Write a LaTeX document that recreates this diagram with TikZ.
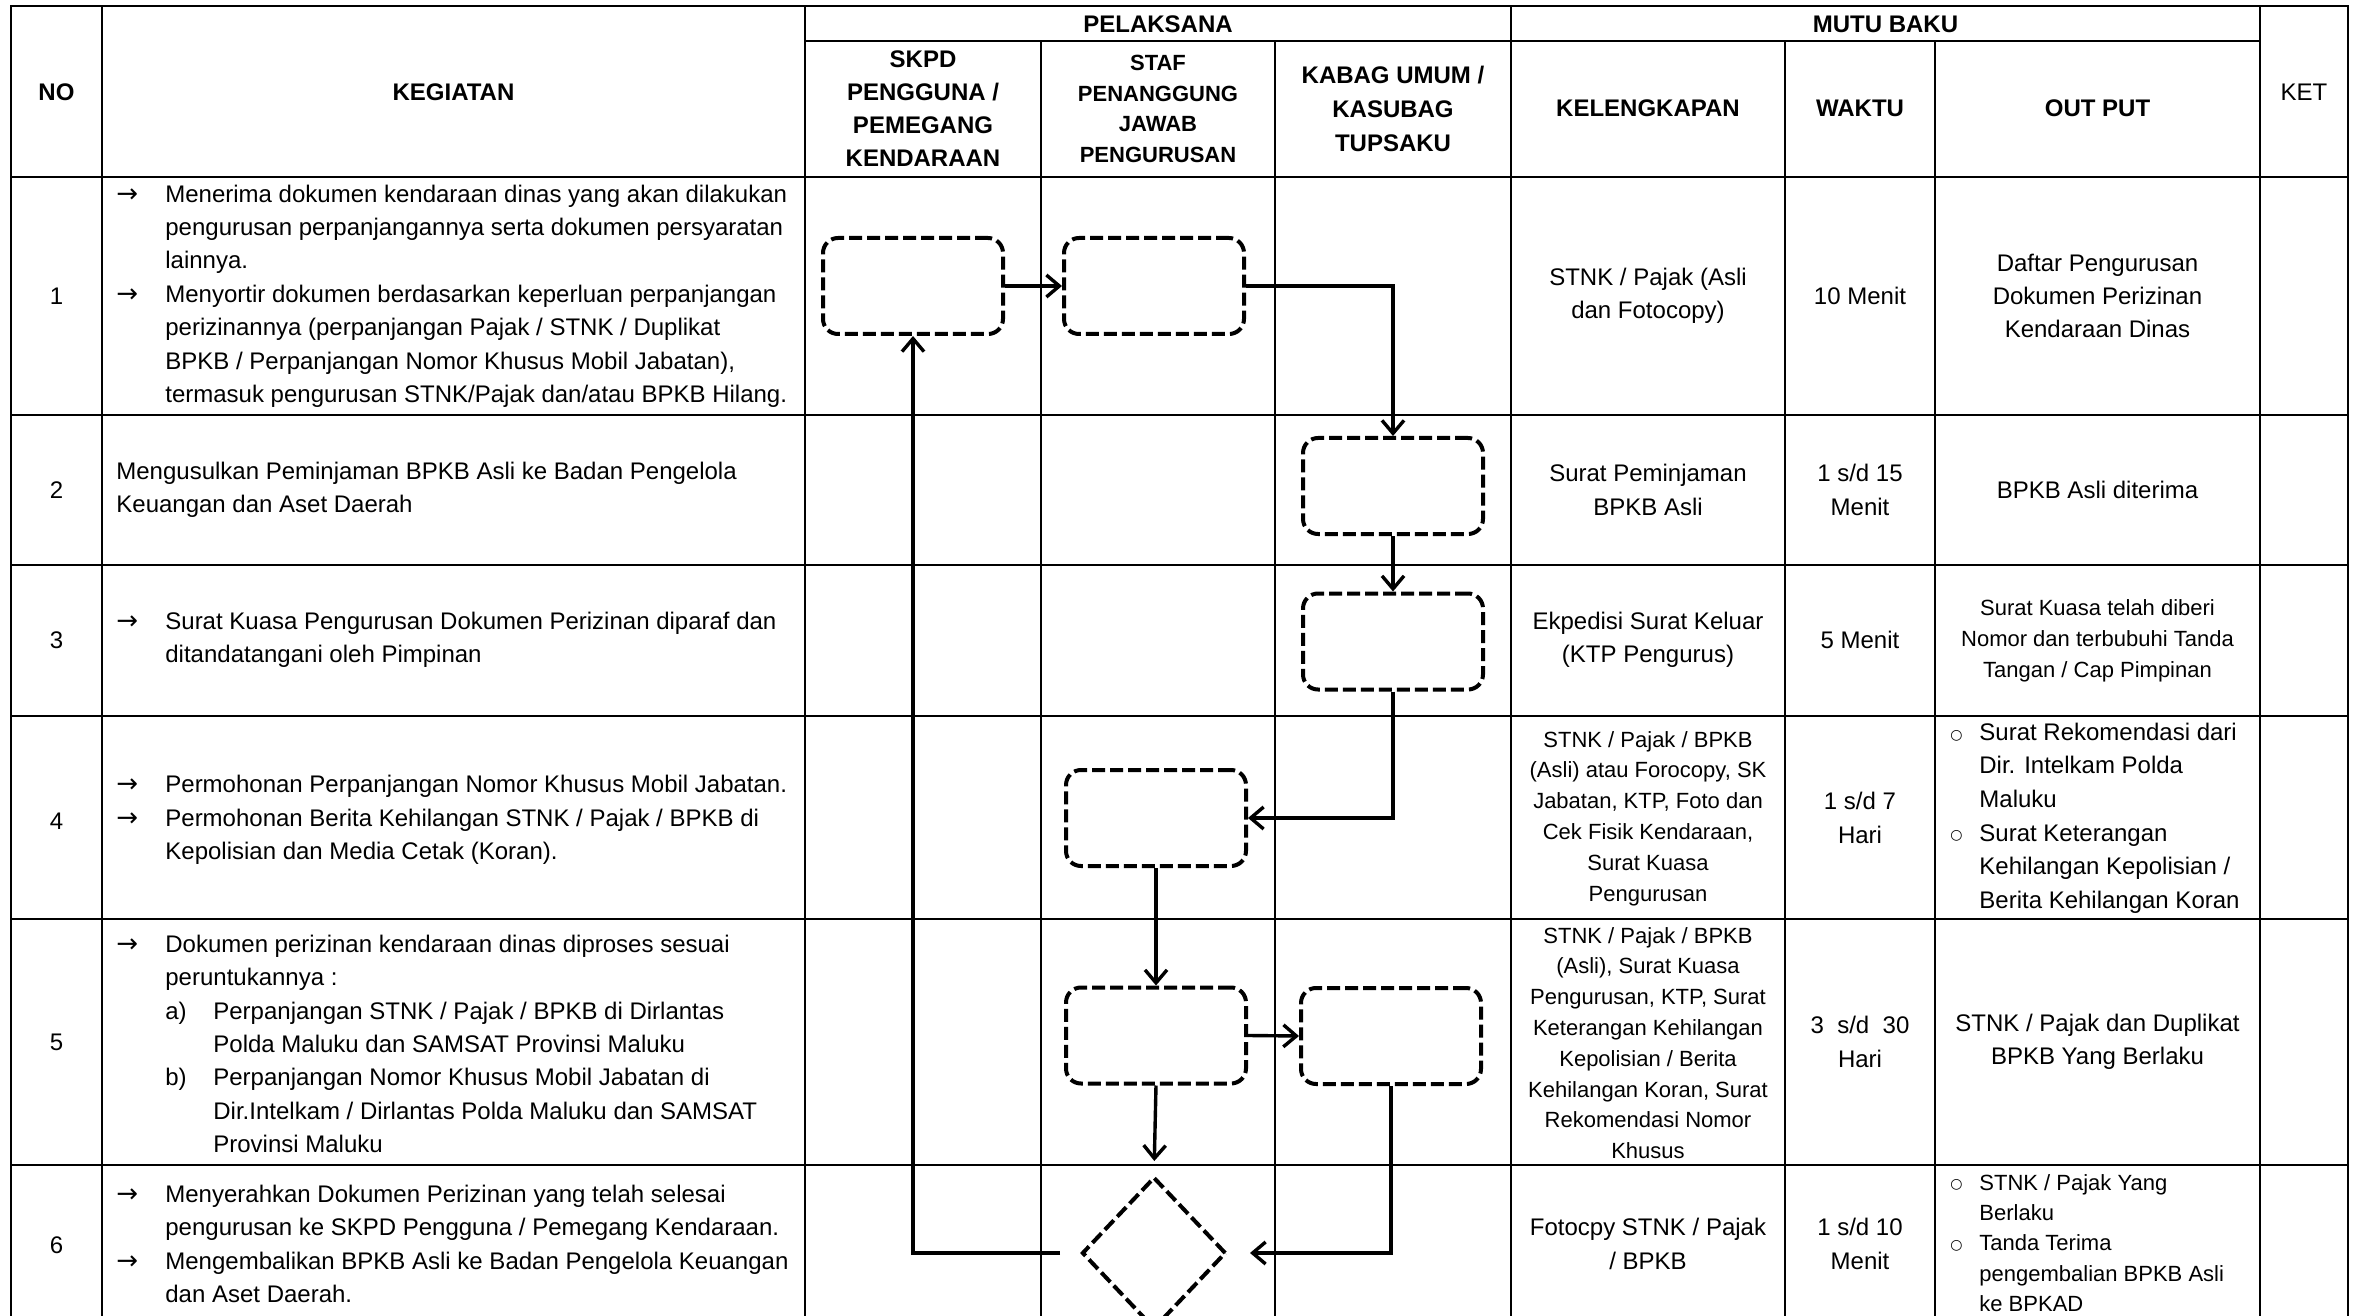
\documentclass[tikz,border=0pt]{standalone}
\usepackage{fontspec}
\setmainfont{Liberation Sans}
\newfontfamily\symfont{DejaVu Sans}
\usetikzlibrary{arrows.meta,shapes.geometric}
\newcommand{\myarr}{\llap{\makebox[24.5pt][l]{\symfont\fontsize{13}{13}\selectfont →}}}
\newcommand{\mybul}{\llap{\makebox[14.5pt][l]{\raisebox{0.6pt}{\symfont\fontsize{7}{7}\selectfont ○}}}}
\begin{document}
\begin{tikzpicture}[x=0.5pt,y=-0.5pt,
  grid/.style={line width=0.7pt},
  pbox/.style={draw, line width=2pt, dash pattern=on 6.5pt off 2.5pt, rounded corners=7.5pt,
    minimum width=90pt, minimum height=48pt, inner sep=0pt},
  dbox/.style={draw, diamond, line width=2pt, dash pattern=on 6.5pt off 2.5pt,
    minimum width=72pt, minimum height=76pt, inner sep=0pt},
  conn/.style={line width=1.7pt, -{Straight Barb[length=6.5pt,width=11pt]}},
  hd/.style={font=\bfseries\fontsize{12}{16.5}\selectfont, align=center, inner sep=0pt},
  tx/.style={font=\fontsize{12}{16.7}\selectfont, align=center, inner sep=0pt},
  sm/.style={font=\fontsize{11}{15.4}\selectfont, align=center, inner sep=0pt},
  lt/.style={font=\fontsize{12}{16.7}\selectfont, align=left, inner sep=0pt, anchor=west},
]
\useasboundingbox (0,0) rectangle (2358,1316);
\fill[white] (0,0) rectangle (2358,1316);
\clip (0,0) rectangle (2358,1316);

% ---------- table grid ----------
\draw[grid] (11,1330) -- (11,6) -- (2348,6) -- (2348,1330);
\draw[grid] (805,41) -- (2260,41);
\foreach \yy in {177,415,565,716,919,1165,1323}
  \draw[grid] (11,\yy) -- (2348,\yy);
\foreach \xx in {102,805,1511,2260}
  \draw[grid] (\xx,6) -- (\xx,1330);
\foreach \xx in {1041,1275,1785,1935}
  \draw[grid] (\xx,41) -- (\xx,1330);

% ---------- header ----------
\node[hd] (hNO) at (56.5,92) {NO};
\node[hd] (hKEG) at (453.5,92) {KEGIATAN};
\node[hd] (hPel) at (1158,24) {PELAKSANA};
\node[hd] (hMB) at (1885.5,24) {MUTU BAKU};
\node[hd] (hSKPD) at (923,109) {SKPD\\PENGGUNA /\\PEMEGANG\\KENDARAAN};
\node[hd, font=\bfseries\fontsize{11}{15.4}\selectfont] (hStaf) at (1158,109) {STAF\\PENANGGUNG\\JAWAB\\PENGURUSAN};
\node[hd, font=\bfseries\fontsize{12}{17}\selectfont] (hKab) at (1393,109) {KABAG UMUM /\\KASUBAG\\TUPSAKU};
\node[hd] (hKel) at (1648,108) {KELENGKAPAN};
\node[hd] (hWak) at (1860,108) {WAKTU};
\node[hd] (hOut) at (2097.5,108) {OUT PUT};
\node[tx] (hKet) at (2304,92) {KET};

% ---------- numbers ----------
\node[tx] (n1) at (56.5,296) {1};
\node[tx] (n2) at (56.5,490) {2};
\node[tx] (n3) at (56.5,640) {3};
\node[tx] (n4) at (56.5,821) {4};
\node[tx] (n5) at (56.5,1042) {5};
\node[tx] (n6) at (56.5,1245) {6};

% ---------- kegiatan ----------
\node[lt] (k1) at (165,296) {\myarr Menerima dokumen kendaraan dinas yang akan dilakukan\\
pengurusan perpanjangannya serta dokumen persyaratan\\
lainnya.\\
\myarr Menyortir dokumen berdasarkan keperluan perpanjangan\\
perizinannya (perpanjangan Pajak / STNK / Duplikat\\
BPKB / Perpanjangan Nomor Khusus Mobil Jabatan),\\
termasuk pengurusan STNK/Pajak dan/atau BPKB Hilang.};
\node[lt] (k2) at (116,490) {Mengusulkan Peminjaman BPKB Asli ke Badan Pengelola\\
Keuangan dan Aset Daerah};
\node[lt] (k3) at (165,640) {\myarr Surat Kuasa Pengurusan Dokumen Perizinan diparaf dan\\
ditandatangani oleh Pimpinan};
\node[lt] (k4) at (165,820) {\myarr Permohonan Perpanjangan Nomor Khusus Mobil Jabatan.\\
\myarr Permohonan Berita Kehilangan STNK / Pajak / BPKB di\\
Kepolisian dan Media Cetak (Koran).};
\node[lt] (k5) at (165,1044) {\myarr Dokumen perizinan kendaraan dinas diproses sesuai\\
peruntukannya :\\
\makebox[24pt][l]{a)}Perpanjangan STNK / Pajak / BPKB di Dirlantas\\
\hspace*{24pt}Polda Maluku dan SAMSAT Provinsi Maluku\\
\makebox[24pt][l]{b)}Perpanjangan Nomor Khusus Mobil Jabatan di\\
\hspace*{24pt}Dir.Intelkam / Dirlantas Polda Maluku dan SAMSAT\\
\hspace*{24pt}Provinsi Maluku};
\node[lt] (k6) at (165,1244) {\myarr Menyerahkan Dokumen Perizinan yang telah selesai\\
pengurusan ke SKPD Pengguna / Pemegang Kendaraan.\\
\myarr Mengembalikan BPKB Asli ke Badan Pengelola Keuangan\\
dan Aset Daerah.};

% ---------- kelengkapan ----------
\node[tx] (c1) at (1648,296) {STNK / Pajak (Asli\\dan Fotocopy)};
\node[tx] (c2) at (1648,490) {Surat Peminjaman\\BPKB Asli};
\node[tx] (c3) at (1648,640) {Ekpedisi Surat Keluar\\(KTP Pengurus)};
\node[sm] (c4) at (1648,818.5) {STNK / Pajak / BPKB\\(Asli) atau Forocopy, SK\\Jabatan, KTP, Foto dan\\Cek Fisik Kendaraan,\\Surat Kuasa\\Pengurusan};
\node[sm] (c5) at (1648,1043) {STNK / Pajak / BPKB\\(Asli), Surat Kuasa\\Pengurusan, KTP, Surat\\Keterangan Kehilangan\\Kepolisian / Berita\\Kehilangan Koran, Surat\\Rekomendasi Nomor\\Khusus};
\node[tx] (c6) at (1648,1244) {Fotocpy STNK / Pajak\\/ BPKB};

% ---------- waktu ----------
\node[tx] (w1) at (1860,296) {10 Menit};
\node[tx] (w2) at (1860,490) {1 s/d 15\\Menit};
\node[tx] (w3) at (1860,640) {5 Menit};
\node[tx] (w4) at (1860,818) {1 s/d 7\\Hari};
\node[tx] (w5) at (1860,1042) {3\ \ s/d\ \ 30\\Hari};
\node[tx] (w6) at (1860,1244) {1 s/d 10\\Menit};

% ---------- output ----------
\node[tx] (o1) at (2097.5,296) {Daftar Pengurusan\\Dokumen Perizinan\\Kendaraan Dinas};
\node[tx] (o2) at (2097.5,490) {BPKB Asli diterima};
\node[sm] (o3) at (2097.5,641) {Surat Kuasa telah diberi\\Nomor dan terbubuhi Tanda\\Tangan / Cap Pimpinan};
\node[lt, font=\fontsize{12}{16.8}\selectfont] (o4) at (1979,818) {\mybul Surat Rekomendasi dari\\
Dir. Intelkam Polda\\
Maluku\\
\mybul Surat Keterangan\\
Kehilangan Kepolisian /\\
Berita Kehilangan Koran};
\node[tx] (o5) at (2097.5,1042) {STNK / Pajak dan Duplikat\\BPKB Yang Berlaku};
\node[lt, font=\fontsize{11}{15.2}\selectfont] (o6) at (1979,1243) {\mybul STNK / Pajak Yang\\
Berlaku\\
\mybul Tanda Terima\\
pengembalian BPKB Asli\\
ke BPKAD};

% ---------- flow shapes ----------
\node[pbox] (A) at (913,286) {};
\node[pbox] (B) at (1154,286) {};
\node[pbox] (C) at (1393,486) {};
\node[pbox] (D) at (1393,641.5) {};
\node[pbox] (E) at (1156,818) {};
\node[pbox] (F) at (1156,1035.5) {};
\node[pbox] (G) at (1391,1036) {};
\node[dbox] (Dm) at (1154,1253) {};

% ---------- connectors ----------
\draw[conn] (A.east) -- (B.west);
\draw[conn] (B.east) -| (C.north);
\draw[conn] (C.south) -- (D.north);
\draw[conn] (D.south) |- (E.east);
\draw[conn] (E.south) -- (F.north);
\draw[conn] (F.east) -- (G.west);
\draw[conn, shorten >=7pt] (F.south) -- (Dm.north);
\draw[conn, shorten >=11pt] (G.south) |- (Dm.east);
\draw[conn, shorten <=10pt] (Dm.west) -| (A.south);
\end{tikzpicture}
\end{document}
